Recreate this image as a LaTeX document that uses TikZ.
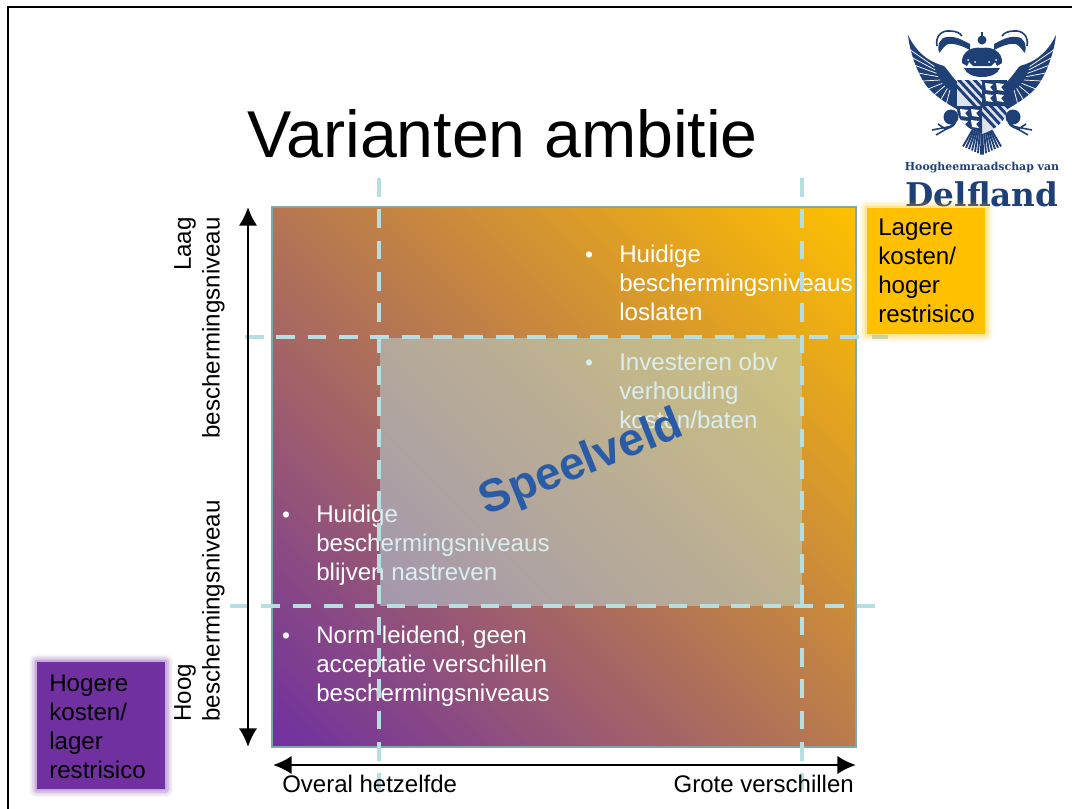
\documentclass[tikz,border=0pt]{standalone}
\usepackage{fontspec}
\setmainfont{Liberation Sans}
\newfontfamily\logofont{DejaVu Serif}
\usetikzlibrary{arrows.meta}
\definecolor{paars}{HTML}{7030A0}
\definecolor{oranje}{HTML}{FFC000}
\definecolor{lijn}{HTML}{B7DEE0}
\definecolor{rand}{HTML}{7FA6A8}
\definecolor{wapen}{HTML}{1F3F77}
\definecolor{tekstblauw}{HTML}{2A5CA6}

\pgfdeclareverticalshading{veldkleur}{100bp}{color(0bp)=(paars); color(14.6bp)=(paars); color(85.4bp)=(oranje); color(100bp)=(oranje)}

\tikzset{
  bodytext/.style={text=white,anchor=north west,inner sep=0pt,align=left,font=\fontsize{18.1}{21.6}\selectfont},
  bulletmark/.style={text=white,inner sep=0pt,font=\fontsize{17}{17}\selectfont},
  boxtext/.style={anchor=north west,inner sep=0pt,align=left,font=\fontsize{18.1}{21.6}\selectfont},
  sidetext/.style={rotate=90,inner sep=0pt,font=\fontsize{18.1}{21.6}\selectfont},
  guide/.style={lijn,line width=3.2pt,dash pattern=on 14pt off 9.5pt},
  axisarrow/.style={line width=2.2pt,<->,>={Latex[length=14pt,width=14pt]}},
  feather/.style={white,line width=0.55pt},
}

\begin{document}
\begin{tikzpicture}[x=0.75pt,y=-0.75pt]
  \useasboundingbox (0,0) rectangle (1072,808);
  \draw[line width=2pt] (8,816) -- (8,7) -- (1080,7);

  %% Title
  \node[inner sep=0pt] (title) at (502.5,134) {\fontsize{49.7}{56}\selectfont Varianten ambitie};

  %% Logo, left half mirrored
  \foreach \side in {1,-1}{
    \begin{scope}[shift={(982,0)},xscale=\side]
      %% wing
      \fill[wapen] (74,35) .. controls (72,55) and (62,80) .. (52,90) .. controls (44,98) and (34,104) .. (24,110)
        -- (22,84) .. controls (28,80) and (34,70) .. (38,66) .. controls (44,64) and (62,60) .. (74,35) -- cycle;
      \foreach \a/\b in {72/48,70/56,67/64,63/72,58/80,53/88,47/94,41/100,35/104}{
        \draw[feather] (30+0.42*\a-0.42*30,80+0.42*\b-0.42*80) -- (\a+1,\b+1);
      }
      %% neck and head
      \fill[wapen] (12,44) .. controls (20,40) and (26,36) .. (34,37) .. controls (42,37) and (45,44) .. (43,53)
        .. controls (40,50) and (38,46) .. (34,44) .. controls (26,43) and (18,47) .. (12,50) -- cycle;
      \draw[wapen,line width=1.2pt] (45,46) .. controls (47,36) and (40,30) .. (32,31) .. controls (26,31) and (22,33) .. (20,36);
      %% crown
      \fill[wapen] (0,48) .. controls (10,46) and (21,52) .. (20,63) -- (15,66) -- (13,62) -- (9,66) -- (0,66) -- cycle;
      \fill[wapen] (0,68) -- (18,68) .. controls (16,74) and (8,77) .. (0,77) -- cycle;
      \fill[white] (7,62) circle (1) (14,60) circle (1);
      %% foot
      \fill[wapen] (31,117) circle (7.5);
      \draw[wapen,line width=2pt] (27,122) .. controls (28,126) and (34,128) .. (38,129);
      \draw[wapen,line width=1.2pt] (34,127) -- (50,130) (34,128) -- (46,135) (38,128) -- (44,124);
      %% tail
      \foreach \a in {1,4,7,10,13,16,19}{
        \draw[wapen,line width=1.4pt] (\a*0.5,130) -- (\a,155-\a*0.45);
      }
    \end{scope}
  }
  \fill[wapen] (982,40) circle (4.5);
  \fill[wapen] (981,32) rectangle (983,38);
  %% Shield
  \begin{scope}
    \clip (957,80) -- (1007,80) -- (1007,110) .. controls (1006,122) and (994,130) .. (982,134) .. controls (970,130) and (958,122) .. (957,110) -- cycle;
    \fill[white!85!wapen] (957,80) rectangle (1007,134);
    \foreach \i in {0,1,2,3,4,5,6}{
      \draw[wapen,line width=2.2pt] (951+\i*6,80-\i*2) -- (1001+\i*6,134-\i*2);
    }
    \fill[wapen] (982,80) rectangle (1007,106) (957,106) rectangle (982,134);
    \foreach \p/\q in {985/83,996/83,985/94,996/94,960/109,971/109,960/120,971/120}{
      \fill[white] (\p,\q) -- (\p+8,\q+1) -- (\p+5,\q+4) -- (\p+8,\q+8) -- (\p+1,\q+7) -- cycle;
    }
  \end{scope}
  \node[inner sep=0pt,text=wapen] (hoogheem) at (982,168) {\logofont\bfseries\fontsize{8.2}{10}\selectfont Hoogheemraadschap van};
  \node[inner sep=0pt,text=wapen] (delfland) at (982,194) {\logofont\bfseries\fontsize{24.5}{28}\selectfont Delfland};

  %% Field
  \path[draw=rand,line width=1.5pt,shading=veldkleur,shading angle=-45] (272,207) rectangle (856,747);

  \node[bulletmark] (b1) at (589,257) {•};
  \node[bodytext] (t1) at (619,245) {Huidige\\beschermingsniveaus\\loslaten};
  \node[bulletmark] (b2) at (589,365) {•};
  \node[bodytext] (t2) at (619,353) {Investeren obv\\verhouding\\kosten/baten};
  \node[bulletmark] (b3) at (286,517) {•};
  \node[bodytext] (t3) at (316,505) {Huidige\\beschermingsniveaus\\blijven nastreven};
  \node[bulletmark] (b4) at (286,638) {•};
  \node[bodytext] (t4) at (316,626) {Norm leidend, geen\\acceptatie verschillen\\beschermingsniveaus};

  \fill[lijn,opacity=0.5] (380,338) rectangle (802,606);

  %% Guide lines
  \coordinate (h1a) at (245,337); \coordinate (h1b) at (888,337);
  \coordinate (h2a) at (230,606); \coordinate (h2b) at (875,606);
  \coordinate (v1a) at (379,178); \coordinate (v1b) at (379,790);
  \coordinate (v2a) at (802,178); \coordinate (v2b) at (802,790);
  \draw[guide] (h1a) -- (h1b);
  \draw[guide] (h2a) -- (h2b);
  \draw[guide] (v1a) -- (v1b);
  \draw[guide] (v2a) -- (v2b);

  \node[rotate=22,inner sep=0pt,text=tekstblauw] (speelveld) at (582,464) {\bfseries\fontsize{34.5}{36}\selectfont Speelveld};

  %% Corner boxes
  \foreach \g/\o in {16/0.05,13/0.07,10/0.09,7/0.12,4/0.15}{
    \draw[oranje,line width=\g*0.75pt,opacity=\o,line join=round] (867,208) rectangle (985,334);
    \draw[paars,line width=\g*0.75pt,opacity=\o,line join=round] (37,662) rectangle (165,789);
  }
  \fill[oranje] (867,208) rectangle (985,334);
  \fill[paars] (37,662) rectangle (165,789);
  \node[boxtext] (lagere) at (878,219) {Lagere\\kosten/\\hoger\\restrisico};
  \node[boxtext] (hogere) at (49,675) {Hogere\\kosten/\\lager\\restrisico};

  %% Axes
  \coordinate (vtop) at (248,207); \coordinate (vbot) at (248,747);
  \coordinate (hleft) at (273,765); \coordinate (hright) at (856,765);
  \draw[axisarrow] (vtop) -- (vbot);
  \draw[axisarrow] (hleft) -- (hright);

  \node[sidetext,align=right,anchor=north east] (laag) at (174,217) {Laag\\beschermingsniveau};
  \node[sidetext,align=left,anchor=north west] (hoog) at (174,722) {Hoog\\beschermingsniveau};
  \node[inner sep=0pt,anchor=west] (overal) at (282,784) {\fontsize{18}{20}\selectfont Overal hetzelfde};
  \node[inner sep=0pt,anchor=east] (grote) at (854,784) {\fontsize{18}{20}\selectfont Grote verschillen};
\end{tikzpicture}
\end{document}
